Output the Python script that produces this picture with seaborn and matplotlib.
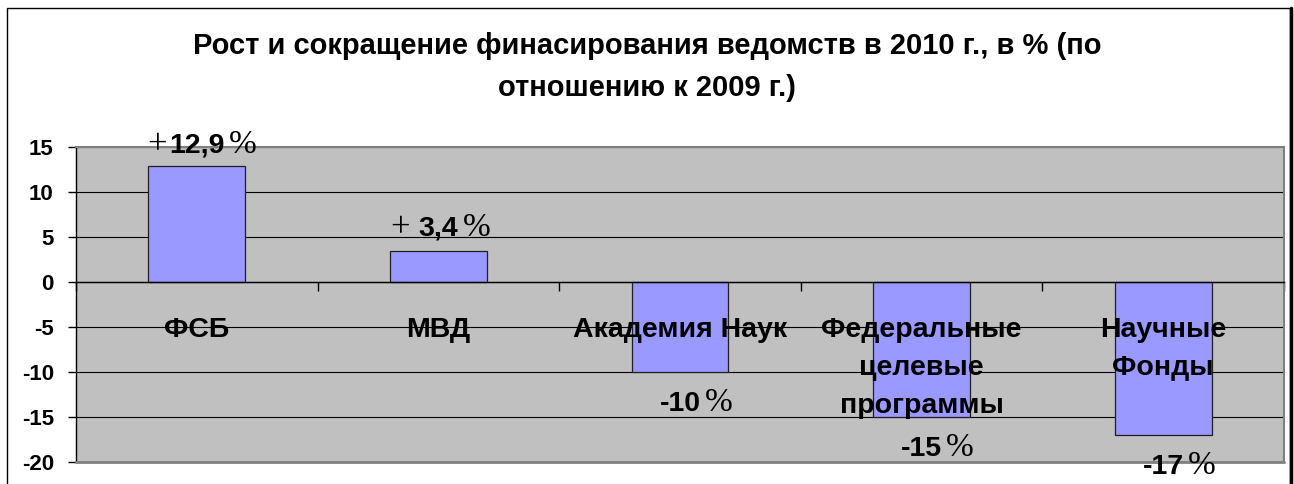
import matplotlib
matplotlib.use("Agg")
import matplotlib.pyplot as plt
import seaborn as sns
import pandas as pd
from matplotlib.patches import Rectangle
from matplotlib.lines import Line2D

# Data
categories = ["ФСБ", "МВД", "Академия Наук", "Федеральные\nцелевые\nпрограммы", "Научные\nФонды"]
change_pct = [12.9, 3.4, -10, -15, -17]
sign_labels = ["+", "+", "", "", ""]
number_labels = ["12,9", "3,4", "-10", "-15", "-17"]
yticks = [15, 10, 5, 0, -5, -10, -15, -20]
title = "Рост и сокращение финасирования ведомств в 2010 г., в % (по\nотношению к 2009 г.)"

# baseline of each value label, in data units
label_y = [14.4, 5.2, -14.3, -19.3, -21.3]
sign_gap = [1.5, 6, 0, 0, 0]

sns.set_style("white")
plt.rcParams['font.family'] = ['Liberation Sans', 'DejaVu Sans']
plt.rcParams['text.color'] = 'black'
plt.rcParams['xtick.color'] = 'black'
plt.rcParams['ytick.color'] = 'black'
plt.rcParams['axes.unicode_minus'] = False

df = pd.DataFrame({"dept": categories, "pct": change_pct})

W, H = 1294, 484
fig = plt.figure(figsize=(W / 100, H / 100), dpi=100)
ax = fig.add_axes([76 / W, 1 - 462 / H, (1284 - 76) / W, (462 - 147) / H])
ax.set_facecolor('#C0C0C0')

sns.barplot(data=df, x="dept", y="pct", color="#9999FF", saturation=1, width=0.4,
            edgecolor="#202020", linewidth=0.9, ax=ax, zorder=3)

ax.set_xlim(-0.5, 4.5)
ax.set_ylim(-20, 15)
ax.set_axisbelow(True)
ax.yaxis.grid(True, color='black', linewidth=0.8)
ax.xaxis.grid(False)

# axes frame
ax.spines['bottom'].set_position(('data', 0))
ax.spines['bottom'].set_color('black')
ax.spines['bottom'].set_linewidth(1.0)
ax.spines['bottom'].set_zorder(4)
ax.spines['left'].set_color('black')
ax.spines['left'].set_linewidth(1.0)
for s in ['top', 'right']:
    ax.spines[s].set_color('#808080')
    ax.spines[s].set_linewidth(1.5)
ax.axhline(-20, color='#808080', linewidth=2.0, zorder=5, clip_on=False)

ax.set_xticks([-0.5, 0.5, 1.5, 2.5, 3.5, 4.5], labels=[''] * 6)
ax.tick_params(axis='x', direction='out', length=6.5, width=1, color='black', bottom=True)
ax.set_yticks(yticks)
ax.tick_params(axis='y', direction='out', length=6, width=1, color='black', left=True,
               pad=10, labelsize=16)
for t in ax.get_yticklabels():
    t.set_fontweight('bold')
ax.set_xlabel('')
ax.set_ylabel('')

# category names inside the plot area, one text per line
for i, cat in enumerate(categories):
    for k, line in enumerate(cat.split('\n')):
        ax.text(i, -6.1 - 4.22 * k, line, ha='center', va='baseline', fontsize=20.5,
                fontweight='bold', zorder=6)

# value labels: bold number centred on the bar, serif sign and percent beside it
for i in range(len(change_pct)):
    num = ax.text(i, label_y[i], number_labels[i], ha='center', va='baseline',
                  fontsize=20.5, fontweight='bold', zorder=7, clip_on=False)
    ax.annotate("%", xy=(1, label_y[i]), xycoords=(num, 'data'), xytext=(3, -0.5),
                textcoords='offset points', ha='left', va='baseline',
                family='Liberation Serif', fontsize=24, zorder=7, annotation_clip=False)
    if sign_labels[i]:
        ax.annotate(sign_labels[i], xy=(0, label_y[i]), xycoords=(num, 'data'),
                    xytext=(-sign_gap[i], -1.5), textcoords='offset points', ha='right',
                    va='baseline', family='Liberation Serif', fontsize=25, zorder=7,
                    annotation_clip=False)

fig.text(647 / W, 1 - 67 / H, title, ha='center', va='center', fontsize=21,
         fontweight='bold', linespacing=1.6)

# outer chart border
fig.add_artist(Rectangle((7 / W, -0.02), (1290 - 7) / W, 1.02 - 7.5 / H,
                         transform=fig.transFigure, fill=False, edgecolor='black', linewidth=1.0))
fig.add_artist(Line2D([1290.5 / W, 1290.5 / W], [0, 1 - 7.5 / H], transform=fig.transFigure,
                      color='black', linewidth=2.5))

fig.savefig('out.png', dpi=100)
